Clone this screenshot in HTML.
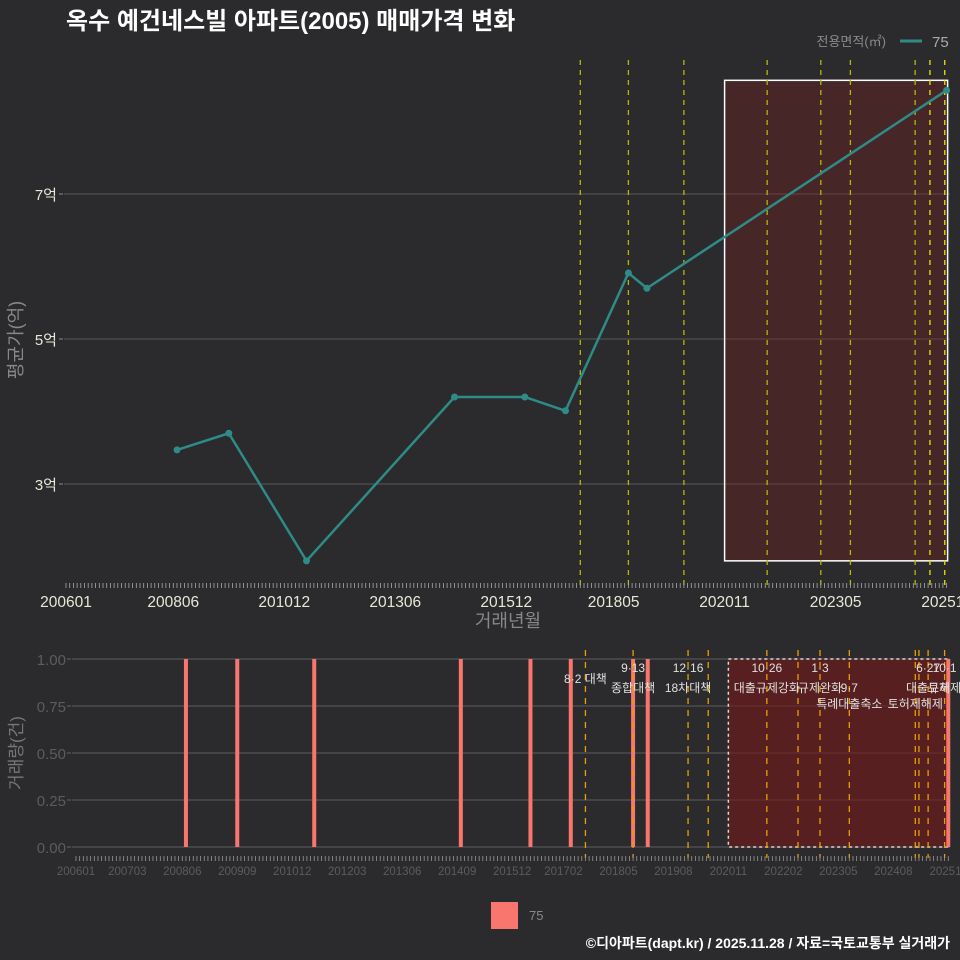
<!DOCTYPE html>
<html><head><meta charset="utf-8">
<style>
html,body{margin:0;padding:0;background:#2b2b2d;}
svg{display:block;font-family:"Liberation Sans","Noto Sans CJK KR",sans-serif;}
</style></head>
<body>
<svg id="c" width="960" height="960" viewBox="0 0 960 960">
<rect width="960" height="960" fill="#2b2b2d"/>
<text x="66" y="29" fill="#ffffff" font-size="24" font-weight="bold">옥수 예건네스빌 아파트(2005) 매매가격 변화</text>
<text x="886" y="46" fill="#8a8a8a" font-size="13" text-anchor="end">전용면적(㎡)</text>
<line x1="900" y1="41" x2="922" y2="41" stroke="#2e8b87" stroke-width="3"/>
<text x="932" y="47" fill="#aaaaaa" font-size="15">75</text>
<g id="topg"></g>
<g id="botg"></g>
<rect x="491" y="902" width="27" height="27" fill="#f8766d"/>
<text x="529" y="920" fill="#888" font-size="13">75</text>
<text x="950" y="948" fill="#ffffff" font-size="14" font-weight="bold" text-anchor="end">©디아파트(dapt.kr) / 2025.11.28 / 자료=국토교통부 실거래가</text>
<text transform="translate(22,340) rotate(-90)" fill="#888" font-size="18" text-anchor="middle">평균가(억)</text>
<text x="508" y="627" fill="#888" font-size="18" text-anchor="middle">거래년월</text>
<text transform="translate(22,753) rotate(-90)" fill="#777" font-size="17" text-anchor="middle">거래량(건)</text>
</svg>
<script>
// month index = months since 2006-01
const priceMonths=[30,44,65,105,124,135,152,157,238];
const priceValues=[3.47,3.70,1.94,4.20,4.20,4.01,5.91,5.70,8.43];
const volMonths=[30,44,65,105,124,135,152,156,238];
const volValues=[1,1,1,1,1,1,1,1,1];
const topPolicy=[139,152,167,189.5,204,212,229.5,233.5,237.5];
const botPolicy=[139,152,167,172.5,188.5,197,203,211,229,230,232.5,237];
const yTicks=[3,5,7];
const yTickLabels=['3억','5억','7억'];
const volTicks=[0,0.25,0.5,0.75,1];
const volTickLabels=['0.00','0.25','0.50','0.75','1.00'];
const topXTicks=[0,29,59,89,119,148,178,208,238];
const topXLabels=['200601','200806','201012','201306','201512','201805','202011','202305','202511'];
const botXTicks=[0,14,29,44,59,74,89,104,119,133,148,163,178,193,208,223,238];
const botXLabels=['200601','200703','200806','200909','201012','201203','201306','201409','201512','201702','201805','201908','202011','202202','202305','202408','202511'];
const annotations=[
 {m:139,t:'8·2 대책',row:1},{m:152,t:'9·13',row:0},{m:152,t:'종합대책',row:2},
 {m:167,t:'12·16',row:0},{m:167,t:'18차대책',row:2},{m:188.5,t:'10·26',row:0},{m:188.5,t:'대출규제강화',row:2},
 {m:203,t:'1·3',row:0},{m:203,t:'규제완화',row:2},{m:211,t:'9·7',row:2},{m:211,t:'특례대출축소',row:3},
 {m:229,t:'토허제해제',row:3},{m:232.5,t:'6·27',row:0},{m:237,t:'10·1',row:0},{m:232.5,t:'대출규제',row:2},{m:237,t:'토허제',row:2}
];
const NS='http://www.w3.org/2000/svg';
function mk(parent,tag,attrs){const e=document.createElementNS(NS,tag);for(const k in attrs)e.setAttribute(k,attrs[k]);parent.appendChild(e);return e;}
const xT=m=>66+m*3.7, yT=v=>484-(v-3)*72.5;
const xB=m=>76+m*3.665, yB=v=>847-v*188;
const gTop=document.getElementById('topg'), gBot=document.getElementById('botg');
yTicks.forEach((v,i)=>{
 let l=mk(gTop,'line',{x1:64,x2:950,y1:yT(v),y2:yT(v),stroke:'#595959','stroke-width':1});
 
 
 let t=mk(gTop,'text',{x:57,y:yT(v)+6,fill:'#e8e8d8','font-size':15,'text-anchor':'end'});t.textContent=yTickLabels[i];
 
 
 mk(gTop,'line',{x1:59,x2:63,y1:yT(v),y2:yT(v),stroke:'#888'});
});
const pmin=Math.min(...priceValues), pmax=Math.max(...priceValues);
let r=mk(gTop,'rect',{x:xT(178),y:yT(pmax)-10,width:xT(238)-xT(178)+1,height:yT(pmin)-yT(pmax)+10,fill:'rgba(120,30,30,0.35)',stroke:'#ffffff','stroke-width':1.5});


topPolicy.forEach((m,i)=>{
 let l=mk(gTop,'line',{x1:xT(m),x2:xT(m),y1:60,y2:590,stroke:i>=7?'#e6e600':'#b8b800','stroke-width':1.3,'stroke-dasharray':'5,5'});
 
 
});
for(let m=0;m<=238;m++){mk(gTop,'line',{x1:xT(m),x2:xT(m),y1:583,y2:588,stroke:'#aaa','stroke-width':0.8});}
topXTicks.forEach((m,i)=>{
 let t=mk(gTop,'text',{x:xT(m),y:607,fill:'#e8e8d8','font-size':15.5,'text-anchor':'middle'});t.textContent=topXLabels[i];
 
 
});
let pts=priceMonths.map((m,i)=>xT(m)+','+yT(priceValues[i])).join(' ');
let pl=mk(gTop,'polyline',{points:pts,fill:'none',stroke:'#2e8b87','stroke-width':2.5});


priceMonths.forEach((m,i)=>{
 let c=mk(gTop,'circle',{cx:xT(m),cy:yT(priceValues[i]),r:3.5,fill:'#2e8b87'});
 
 
});
volTicks.forEach((v,i)=>{
 let l=mk(gBot,'line',{x1:72,x2:950,y1:yB(v),y2:yB(v),stroke:'#5e5e5e','stroke-width':1});
 
 
 mk(gBot,'line',{x1:67,x2:71,y1:yB(v),y2:yB(v),stroke:'#666'});
 let t=mk(gBot,'text',{x:66,y:yB(v)+6,fill:'#5c5c5c','font-size':15,'text-anchor':'end'});t.textContent=volTickLabels[i];
 
 
});
let r2=mk(gBot,'rect',{x:xB(178),y:yB(1),width:xB(238)-xB(178),height:yB(0)-yB(1),fill:'rgba(110,25,25,0.65)',stroke:'#d8d8d8','stroke-width':1.5,'stroke-dasharray':'3,3'});


volMonths.forEach((m,i)=>{
 let b=mk(gBot,'rect',{x:xB(m)-2,y:yB(volValues[i]),width:4,height:yB(0)-yB(volValues[i]),fill:'#f8766d'});
 
 
});
botPolicy.forEach(m=>{
 let l=mk(gBot,'line',{x1:xB(m),x2:xB(m),y1:650,y2:858,stroke:'#e6a000','stroke-width':1.3,'stroke-dasharray':'6,6'});
 
 
});
const rowY=[672,683,692,708];
annotations.forEach(a=>{
 let t=mk(gBot,'text',{x:xB(a.m),y:rowY[a.row],fill:'#e0e0e0','font-size':12,'text-anchor':'middle'});t.textContent=a.t;
 
 
});
for(let m=0;m<=238;m++){mk(gBot,'line',{x1:xB(m),x2:xB(m),y1:856,y2:861,stroke:'#999','stroke-width':0.8});}
botXTicks.forEach((m,i)=>{
 let t=mk(gBot,'text',{x:xB(m),y:875,fill:'#5c5c5c','font-size':11.5,'text-anchor':'middle'});t.textContent=botXLabels[i];
 
 
});
</script>
</body></html>
